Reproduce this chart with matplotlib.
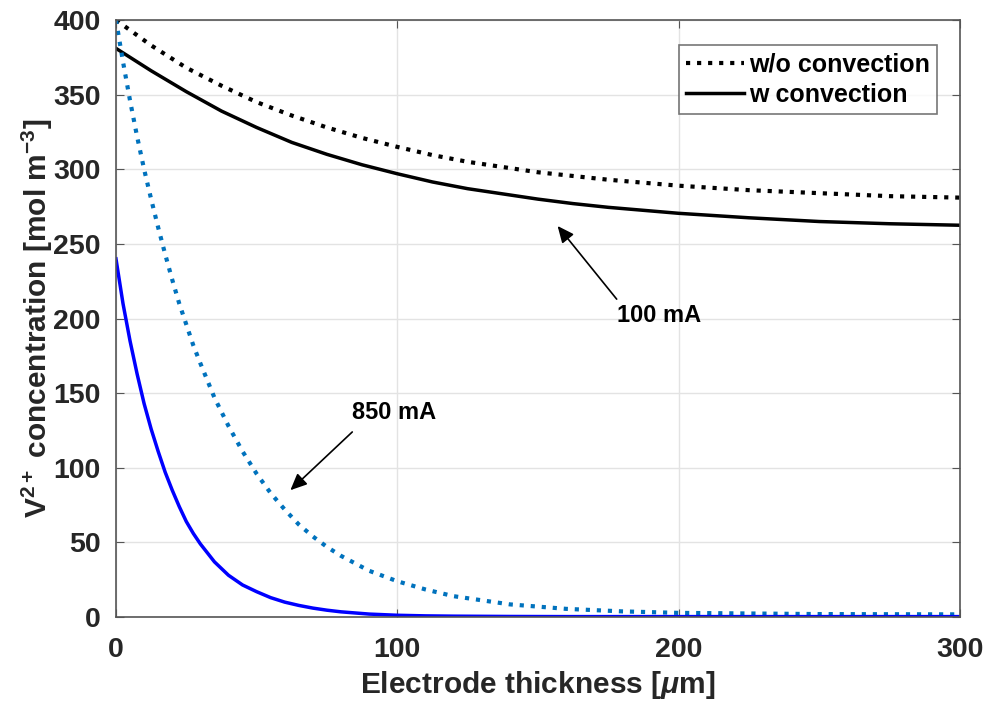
import matplotlib
matplotlib.use('Agg')
import matplotlib.pyplot as plt
import numpy as np

plt.rcParams['font.family'] = ['Liberation Sans', 'DejaVu Sans']
plt.rcParams['font.weight'] = 'bold'
plt.rcParams['mathtext.fontset'] = 'custom'
plt.rcParams['mathtext.rm'] = 'Liberation Sans:bold'
plt.rcParams['mathtext.bf'] = 'Liberation Sans:bold'
plt.rcParams['mathtext.it'] = 'Liberation Sans:italic'
plt.rcParams['mathtext.default'] = 'bf'

# 100 mA curves (black)
x_100 = [0, 12.5, 25, 37.5, 50, 62.5, 75, 87.5, 100, 112.5, 125, 137.5, 150, 162.5, 175, 187.5,
         200, 225, 250, 275, 300]
wo_100 = [400, 383, 368, 356, 345, 336, 328, 321, 315, 309.5, 305, 301.5, 298, 295.5, 293, 291,
          289, 286, 284, 282, 281]
w_100 = [381, 366, 352, 339, 328, 318, 310, 303, 297, 291.5, 287, 283.5, 280, 277, 274.5, 272.5,
         270.5, 267.5, 265, 263.5, 262.5]

# 850 mA curves (blue)
x_850 = [0, 2.5, 5, 7.5, 10, 12.5, 15, 17.5, 20, 22.5, 25, 27.5, 30, 35, 40, 45, 50, 55, 60, 65,
         70, 75, 80, 90, 100, 110, 120, 140, 160, 180, 200, 250, 300]
wo_850 = [400, 372, 346, 322, 300, 280, 261, 243, 226, 210, 196, 182, 170, 147, 128, 111, 96, 83,
          72, 62, 54, 47, 41, 31, 24, 18.5, 14, 8.5, 5.5, 3.8, 2.8, 2, 1.8]
w_850 = [240, 210, 185, 163, 143, 126, 111, 97, 85, 74, 64, 56, 49, 37, 28, 21.5, 17, 13, 10, 7.8,
         6, 4.6, 3.5, 2, 1.2, 0.8, 0.6, 0.4, 0.3, 0.3, 0.3, 0.3, 0.3]

fig = plt.figure(figsize=(9.87, 7.02), dpi=100)
ax = fig.add_axes([0.1175, 0.121, 0.855, 0.8505])

ax.plot(x_100, wo_100, color='black', linestyle=':', linewidth=3, label='w/o convection')
ax.plot(x_100, w_100, color='black', linestyle='-', linewidth=2.5, label='w convection')
ax.plot(x_850, wo_850, color='#0072bd', linestyle=':', linewidth=3)
ax.plot(x_850, w_850, color='#0000ff', linestyle='-', linewidth=2.5)

ax.set_xlim(0, 300)
ax.set_ylim(0, 400)
ax.set_xticks([0, 100, 200, 300])
ax.set_yticks(np.arange(0, 401, 50))
ax.grid(True, color='#e3e3e3', linewidth=1)
ax.set_axisbelow(True)
ax.tick_params(direction='in', length=6, color='#555555', labelsize=20.5,
               top=True, right=True)
ax.tick_params(axis='x', pad=14)
ax.tick_params(axis='y', pad=11)
for s in ax.spines.values():
    s.set_color('#555555')
    s.set_linewidth(1.2)
for lab in ax.get_xticklabels() + ax.get_yticklabels():
    lab.set_fontweight('bold')
    lab.set_color('#262626')

ax.set_xlabel(r'Electrode thickness [$\mathit{\mu}$m]', fontsize=21.5, fontweight='bold',
              color='#262626', labelpad=4.5)
ax.set_ylabel(r'V$^{2+}$ concentration [mol m$^{-3}$]', fontsize=21.5, fontweight='bold',
              color='#262626', labelpad=-1)

leg = ax.legend(loc='upper right', bbox_to_anchor=(0.973, 0.958), fontsize=18,
                frameon=True, fancybox=False, handlelength=2.3, handletextpad=0.2,
                borderpad=0.3, labelspacing=0.25, borderaxespad=0)
leg.get_frame().set_edgecolor('#555555')
leg.get_frame().set_linewidth(1.2)
for t in leg.get_texts():
    t.set_fontweight('bold')

arrow = dict(arrowstyle='-|>,head_length=1.0,head_width=0.45', color='black', lw=1.2,
             shrinkA=0, shrinkB=0)
ax.text(99, 137, '850 mA', fontsize=17, fontweight='bold', ha='center', va='center')
ax.annotate('', xy=(62, 85), xytext=(84, 124), arrowprops=arrow)
ax.text(193, 202, '100 mA', fontsize=17, fontweight='bold', ha='center', va='center')
ax.annotate('', xy=(157, 262), xytext=(178, 213), arrowprops=arrow)

fig.savefig('out.png', dpi=100)
